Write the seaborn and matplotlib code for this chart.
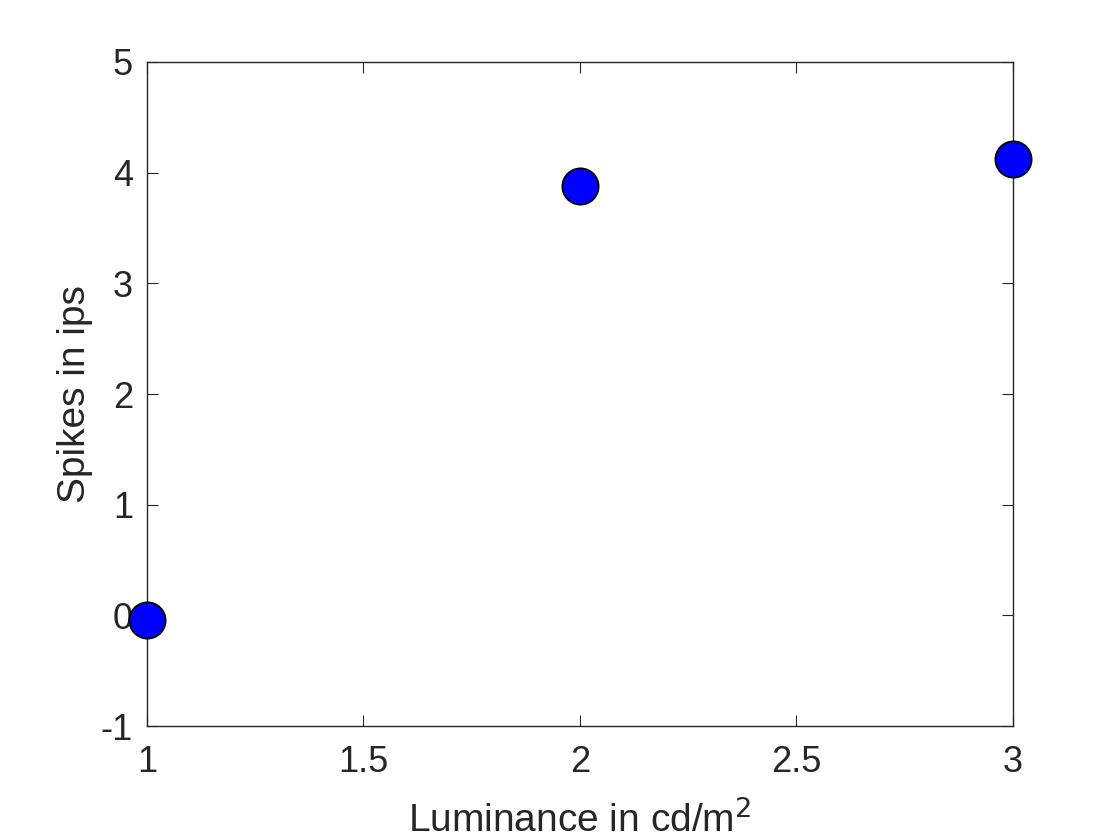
import matplotlib
matplotlib.use("Agg")
import matplotlib.pyplot as plt
import seaborn as sns
import pandas as pd

luminance = [1, 2, 3]
spikes = [-0.04, 3.88, 4.12]

sns.set_style("white")
plt.rcParams['font.family'] = ['Liberation Sans', 'DejaVu Sans']

fig = plt.figure(figsize=(11.2, 8.4), dpi=100)
ax = fig.add_axes([0.13125, 0.1357, 0.7732, 0.7905])

df = pd.DataFrame({"Luminance": luminance, "Spikes": spikes})
sns.scatterplot(data=df, x="Luminance", y="Spikes", ax=ax, s=680, color="#0000ff",
                edgecolor="black", linewidth=1.3, clip_on=False, zorder=5)

ax.set_xlim(1, 3)
ax.set_ylim(-1, 5)
ax.set_xticks([1, 1.5, 2, 2.5, 3])
ax.set_xticklabels(["1", "1.5", "2", "2.5", "3"])
ax.set_yticks([-1, 0, 1, 2, 3, 4, 5])
ax.set_yticklabels(["-1", "0", "1", "2", "3", "4", "5"])
for s in ax.spines.values():
    s.set_visible(True)
    s.set_color("#262626")
    s.set_linewidth(1.0)
ax.tick_params(direction="in", length=8, width=0.8, colors="#262626", labelsize=26,
               top=True, right=True, left=True, bottom=True)
ax.tick_params(axis="x", pad=14)
ax.tick_params(axis="y", pad=10)
ax.set_xlabel("Luminance in cd/m$^2$", fontsize=28, color="#262626", labelpad=14)
ax.set_ylabel("Spikes in ips", fontsize=28, color="#262626", labelpad=6)

fig.savefig("out.png", dpi=100)
